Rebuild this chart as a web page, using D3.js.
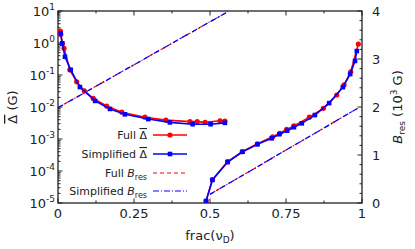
<!DOCTYPE html>
<html><head><meta charset="utf-8">
<script src="https://cdn.jsdelivr.net/npm/d3@7"></script>
<style>body{margin:0;background:#fff}svg{display:block}text{font-family:"DejaVu Sans",sans-serif;fill:#222}.ov{text-decoration:overline}</style>
</head><body>
<svg id="c" width="415" height="249"></svg>
<script>
// ---- data ----
const fullLeftX = [0.0076,0.009,0.014,0.02,0.039,0.0615,0.0865,0.116,0.16,0.21,0.286,0.355,0.434,0.458,0.484,0.533,0.549];
const fullLeftY = [2.37,1.86,0.95,0.68,0.145,0.061,0.032,0.0186,0.0107,0.0069,0.0048,0.0039,0.0035,0.0035,0.0033,0.0037,0.0036];
const simpLeftX = [0.009,0.014,0.023,0.042,0.072,0.122,0.171,0.22,0.297,0.368,0.443,0.502,0.549];
const simpLeftY = [2.0,0.98,0.37,0.145,0.042,0.0155,0.0087,0.0059,0.0042,0.0033,0.0029,0.0029,0.0032];
const fullRightX = [0.487,0.508,0.558,0.606,0.656,0.706,0.730,0.752,0.776,0.827,0.873,0.917,0.941,0.963,0.988];
const fullRightY = [1.15e-5,5.4e-5,1.95e-4,4.0e-4,7.1e-4,1.17e-3,1.51e-3,2.0e-3,2.57e-3,4.8e-3,9.1e-3,0.0237,0.049,0.126,0.93];
const simpRightX = [0.487,0.508,0.558,0.607,0.656,0.703,0.728,0.754,0.776,0.802,0.845,0.892,0.937,0.961,0.977,0.983];
const simpRightY = [1.15e-5,5.25e-5,1.9e-4,4.0e-4,6.8e-4,1.05e-3,1.41e-3,1.82e-3,2.34e-3,3.09e-3,5.6e-3,0.0132,0.0417,0.107,0.275,0.56];
const bresLeftX = [0, 0.56];
const fullBresLeft = [1.985, 3.99];
const simpBresLeft = [1.985, 3.99];
const bresRightX = [0.5, 0.985];
const fullBresRight = [0.18, 1.97];
const simpBresRight = [0.18, 1.97];
const xTicks = [0, 0.25, 0.5, 0.75, 1];
const xTickLabels = ["0", "0.25", "0.5", "0.75", "1"];
const yLeftExp = [-5,-4,-3,-2,-1,0,1];
const yRightTicks = [0,1,2,3,4];

// ---- layout ----
const L=58, R=362, T=11, B=203;
const svg = d3.select("#c");
const x = d3.scaleLinear([0,1],[L,R]);
const yL = d3.scaleLog([1e-5,1e1],[B,T]);
const yR = d3.scaleLinear([0,4],[B,T]);
const red="#ff0000", blue="#0000ff";

svg.append("defs").append("clipPath").attr("id","clip")
  .append("rect").attr("x",L).attr("y",T).attr("width",R-L).attr("height",B-T);

// ticks
const g = svg.append("g").attr("stroke","#222").attr("stroke-width",1);
const xMinor = d3.range(0,1.0001,0.125);
xMinor.forEach(v=>{
  const len = xTicks.some(t=>Math.abs(t-v)<1e-9)?4.5:2.5;
  g.append("line").attr("x1",x(v)).attr("x2",x(v)).attr("y1",B).attr("y2",B-len);
  g.append("line").attr("x1",x(v)).attr("x2",x(v)).attr("y1",T).attr("y2",T+len);
});
for (let e=-5;e<=1;e++){
  g.append("line").attr("x1",L).attr("x2",L+4.5).attr("y1",yL(Math.pow(10,e))).attr("y2",yL(Math.pow(10,e)));
  if(e<1) for(let m=2;m<=9;m++){
    const yy=yL(m*Math.pow(10,e));
    g.append("line").attr("x1",L).attr("x2",L+2.5).attr("y1",yy).attr("y2",yy);
  }
}
d3.range(0,4.0001,0.2).forEach(v=>{
  const major = Math.abs(v-Math.round(v))<1e-6;
  g.append("line").attr("x1",R).attr("x2",R-(major?4.5:2.5)).attr("y1",yR(v)).attr("y2",yR(v));
});

// frame
svg.append("rect").attr("x",L).attr("y",T).attr("width",R-L).attr("height",B-T)
  .attr("fill","none").attr("stroke","#222").attr("stroke-width",1.3);

// tick labels
xTicks.forEach((v,i)=>{
  svg.append("text").attr("x",x(v)).attr("y",218).attr("text-anchor","middle")
    .attr("font-size",13).text(xTickLabels[i]);
});
yLeftExp.forEach(e=>{
  const t = svg.append("text").attr("x",55).attr("y",yL(Math.pow(10,e))+5).attr("text-anchor","end").attr("font-size",13);
  t.append("tspan").text("10");
  t.append("tspan").attr("font-size",9).attr("dy",-6).text(e<0?("-"+(-e)):String(e));
});
yRightTicks.forEach(v=>{
  svg.append("text").attr("x",372).attr("y",yR(v)+5).attr("font-size",13).text(String(v));
});

// axis titles
const lt = svg.append("text").attr("transform","translate(17,107) rotate(-90)").attr("text-anchor","middle").attr("font-size",13);
lt.append("tspan").attr("class","ov").text("\u0394");
lt.append("tspan").text(" (G)");
const rt = svg.append("text").attr("transform","translate(402,107) rotate(-90)").attr("text-anchor","middle").attr("font-size",13);
rt.append("tspan").attr("font-style","italic").text("B");
rt.append("tspan").attr("font-size",9).attr("dy",3).text("res");
rt.append("tspan").attr("dy",-3).text(" (10");
rt.append("tspan").attr("font-size",9).attr("dy",-5).text("3");
rt.append("tspan").attr("dy",5).text(" G)");
const bt = svg.append("text").attr("x",210).attr("y",240).attr("text-anchor","middle").attr("font-size",13);
bt.append("tspan").text("frac(\u03bd");
bt.append("tspan").attr("font-size",9).attr("dy",3).text("D");
bt.append("tspan").attr("dy",-3).text(")");

// plot
const plot = svg.append("g").attr("clip-path","url(#clip)");
const lineL = d3.line().x(d=>x(d[0])).y(d=>yL(d[1]));
const lineR = d3.line().x(d=>x(d[0])).y(d=>yR(d[1]));
const zip=(a,b)=>a.map((v,i)=>[v,b[i]]);

plot.append("path").attr("d",lineR(zip(bresLeftX,fullBresLeft))).attr("fill","none").attr("stroke",red).attr("stroke-width",1.2).attr("stroke-dasharray","4,3");
plot.append("path").attr("d",lineR(zip(bresLeftX,simpBresLeft))).attr("fill","none").attr("stroke",blue).attr("stroke-width",1.2).attr("stroke-dasharray","6,2,1,2");
plot.append("path").attr("d",lineR(zip(bresRightX,fullBresRight))).attr("fill","none").attr("stroke",red).attr("stroke-width",1.2).attr("stroke-dasharray","4,3");
plot.append("path").attr("d",lineR(zip(bresRightX,simpBresRight))).attr("fill","none").attr("stroke",blue).attr("stroke-width",1.2).attr("stroke-dasharray","6,2,1,2");

function drawSeries(xs,ys,color,marker){
  const d = zip(xs,ys);
  plot.append("path").attr("d",lineL(d)).attr("fill","none").attr("stroke",color).attr("stroke-width",1.6);
  d.forEach(p=>{
    if(marker==="circle") plot.append("circle").attr("cx",x(p[0])).attr("cy",yL(p[1])).attr("r",2.6).attr("fill",color);
    else plot.append("rect").attr("x",x(p[0])-2.3).attr("y",yL(p[1])-2.3).attr("width",4.6).attr("height",4.6).attr("fill",color);
  });
}
drawSeries(fullLeftX,fullLeftY,red,"circle");
drawSeries(fullRightX,fullRightY,red,"circle");
drawSeries(simpLeftX,simpLeftY,blue,"square");
drawSeries(simpRightX,simpRightY,blue,"square");

// legend
const lg = svg.append("g");
const rows=[
  {y:135,label:"Full ",color:red,dash:null,marker:"circle"},
  {y:154,label:"Simplified ",color:blue,dash:null,marker:"square"},
  {y:173,label:"Full ",color:red,dash:"4,3",marker:null,sub:true},
  {y:191,label:"Simplified ",color:blue,dash:"6,2,1,2",marker:null,sub:true}
];
rows.forEach(r=>{
  const t = lg.append("text").attr("x",147).attr("y",r.y+4).attr("text-anchor","end").attr("font-size",11);
  t.append("tspan").text(r.label);
  if(r.sub){
    t.append("tspan").attr("font-style","italic").text("B");
    t.append("tspan").attr("font-size",8).attr("dy",2.5).text("res");
  } else t.append("tspan").attr("class","ov").text("\u0394");
  lg.append("line").attr("x1",153).attr("x2",187).attr("y1",r.y).attr("y2",r.y)
    .attr("stroke",r.color).attr("stroke-width",r.dash?1.2:1.6).attr("stroke-dasharray",r.dash);
  if(r.marker==="circle") lg.append("circle").attr("cx",170).attr("cy",r.y).attr("r",2.6).attr("fill",r.color);
  if(r.marker==="square") lg.append("rect").attr("x",167.7).attr("y",r.y-2.3).attr("width",4.6).attr("height",4.6).attr("fill",r.color);
});
</script>
</body></html>
